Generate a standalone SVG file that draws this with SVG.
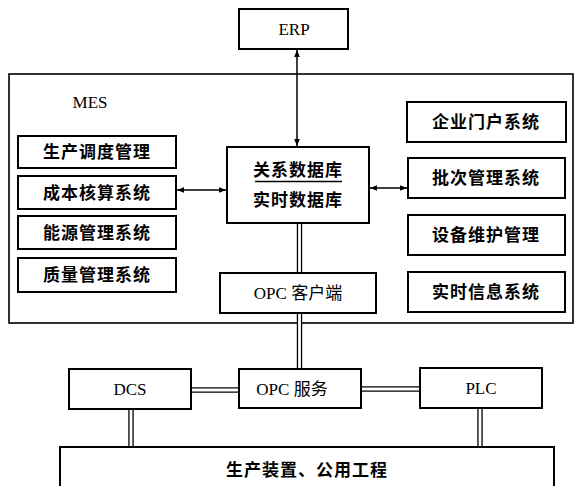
<svg xmlns="http://www.w3.org/2000/svg" width="576" height="486" viewBox="0 0 576 486">
<style>
.box{fill:#fff;stroke:#000;stroke-width:2}
.outer{fill:none;stroke:#000;stroke-width:1.6}
.lat{font-family:"Liberation Serif","Times New Roman",serif;font-size:17px;fill:#000}
.cjk{font-family:"Noto Sans CJK SC",sans-serif;font-size:17px;font-weight:bold;fill:#000;letter-spacing:1px}
.mix{font-family:"Liberation Serif","Noto Sans CJK SC",serif;font-size:17px;fill:#000}
.dbo{stroke:#000;stroke-width:5.4;fill:none}
.dbi{stroke:#fff;stroke-width:2.8;fill:none}
.arr{stroke:#000;stroke-width:1.5;fill:none;marker-start:url(#ah);marker-end:url(#ah)}
</style>
<defs>
<marker id="ah" viewBox="0 0 10 10" refX="10" refY="5" markerWidth="7" markerHeight="7" markerUnits="userSpaceOnUse" orient="auto-start-reverse">
<path d="M0,1 L10,5 L0,9 z" fill="#000"/>
</marker>
</defs>
<rect width="576" height="486" fill="#fff"/>
<g id="mes">
<rect class="outer" x="9" y="74" width="564" height="249"/>
<text class="lat" x="90" y="108" text-anchor="middle">MES</text>
</g>
<g id="connectors">
<line class="arr" x1="297" y1="50" x2="297" y2="146"/>
<line class="arr" x1="177" y1="190" x2="226" y2="190"/>
<line class="arr" x1="370" y1="188" x2="407" y2="188"/>
<path class="dbo" d="M299.5,223 V273 M299.5,313 V369 M191,390 H239 M361,389 H420 M131,409 V448 M480,408 V447"/>
<path class="dbi" d="M299.5,222 V274 M299.5,312 V370 M190,390 H240 M360,389 H421 M131,408 V449 M480,407 V448"/>
</g>
<g id="erp"><rect class="box" x="239" y="9" width="109" height="40"/><text class="lat" x="294" y="35" text-anchor="middle">ERP</text></g>
<g id="n1"><rect class="box" x="18" y="136" width="158" height="32"/><text class="cjk" x="97" y="158" text-anchor="middle">生产调度管理</text></g>
<g id="n2"><rect class="box" x="18" y="176" width="158" height="33"/><text class="cjk" x="97" y="198.5" text-anchor="middle">成本核算系统</text></g>
<g id="n3"><rect class="box" x="18" y="216" width="158" height="33"/><text class="cjk" x="97" y="238.5" text-anchor="middle">能源管理系统</text></g>
<g id="n4"><rect class="box" x="18" y="258" width="158" height="34"/><text class="cjk" x="97" y="281" text-anchor="middle">质量管理系统</text></g>
<g id="db"><rect class="box" x="227" y="147" width="142" height="76"/>
<text class="cjk" x="298" y="176" text-anchor="middle">关系数据库</text>
<line x1="255" y1="181.5" x2="342" y2="181.5" stroke="#000" stroke-width="1.3"/>
<text class="cjk" x="298" y="206" text-anchor="middle">实时数据库</text></g>
<g id="opcc"><rect class="box" x="220" y="273" width="156" height="40"/><text class="mix" x="298" y="299" text-anchor="middle">OPC 客户端</text></g>
<g id="r1"><rect class="box" x="407" y="102" width="159" height="40"/><text class="cjk" x="486" y="128" text-anchor="middle">企业门户系统</text></g>
<g id="r2"><rect class="box" x="408" y="158" width="157" height="40"/><text class="cjk" x="486" y="184" text-anchor="middle">批次管理系统</text></g>
<g id="r3"><rect class="box" x="408" y="215" width="157" height="40"/><text class="cjk" x="486" y="241" text-anchor="middle">设备维护管理</text></g>
<g id="r4"><rect class="box" x="408" y="272" width="157" height="40"/><text class="cjk" x="486" y="298" text-anchor="middle">实时信息系统</text></g>
<g id="opcs"><rect class="box" x="239" y="369" width="122" height="39"/><text class="mix" x="292" y="395" text-anchor="middle">OPC 服务</text></g>
<g id="dcs"><rect class="box" x="69" y="369" width="122" height="40"/><text class="lat" x="130" y="395" text-anchor="middle">DCS</text></g>
<g id="plc"><rect class="box" x="420" y="368" width="122" height="40"/><text class="lat" x="481" y="394" text-anchor="middle">PLC</text></g>
<g id="plant"><rect class="box" x="60" y="447" width="494" height="50"/><text class="cjk" x="307" y="476" text-anchor="middle">生产装置、公用工程</text></g>
</svg>
